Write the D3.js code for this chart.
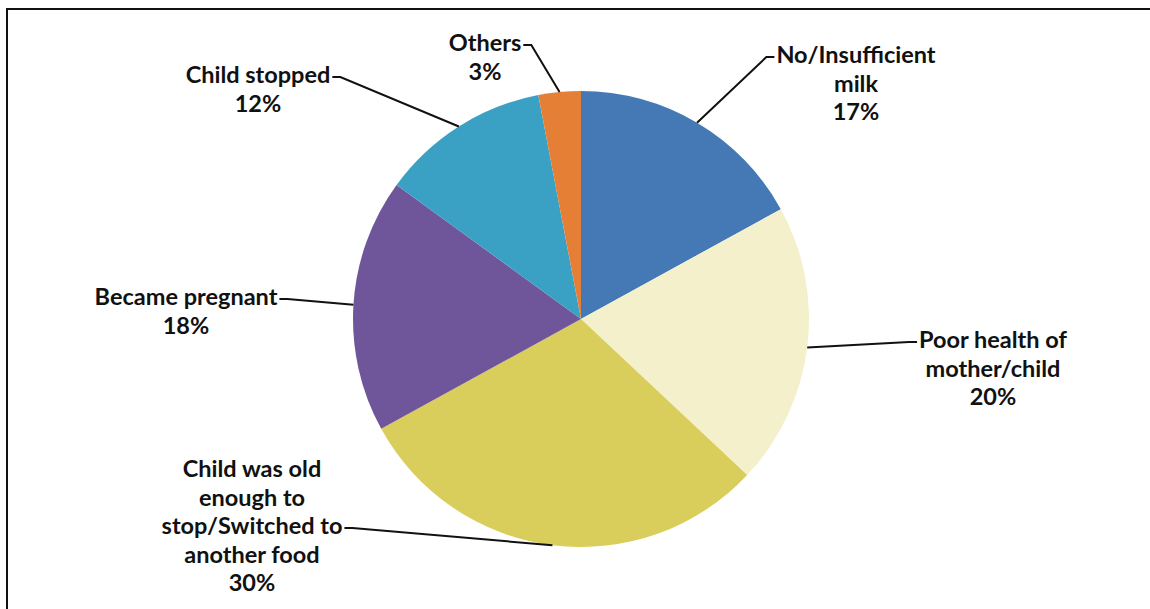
<!DOCTYPE html>
<html>
<head>
<meta charset="utf-8">
<script src="https://cdn.jsdelivr.net/npm/d3@7"></script>
<style>
  html, body { margin: 0; padding: 0; background: #fff; }
  svg { display: block; }
  .lbl { font-family: Lato, "Open Sans", sans-serif; font-weight: 700; font-size: 23.5px; fill: #111; }
</style>
</head>
<body>
<svg id="chart" width="1150" height="609"></svg>
<script>
// Reasons for stopping breastfeeding (share of respondents, %)
const categories = [
  "No/Insufficient milk",
  "Poor health of mother/child",
  "Child was old enough to stop/Switched to another food",
  "Became pregnant",
  "Child stopped",
  "Others"
];
const values = [17, 20, 30, 18, 12, 3];
// Label text, split into the lines as they are set around the pie
const labelLines = [
  ["No/Insufficient", "milk"],
  ["Poor health of", "mother/child"],
  ["Child was old", "enough to", "stop/Switched to", "another food"],
  ["Became pregnant"],
  ["Child stopped"],
  ["Others"]
];
const colors = ["#4479b5", "#f3f0cb", "#d9cd5c", "#6f559a", "#3ba1c4", "#e57f35"];

// Label layout: text centre x, first baseline y, and which line the leader attaches to
const labelLayout = [
  { x: 856, y: 63,  hook: 0, side: "left" },
  { x: 993, y: 348, hook: 0, side: "left" },
  { x: 252, y: 477, hook: 2, side: "right" },
  { x: 186, y: 305, hook: 0, side: "right" },
  { x: 258, y: 83,  hook: 0, side: "right" },
  { x: 485, y: 51,  hook: 0, side: "right" }
];
const lineHeight = 28.5;

const svg = d3.select("#chart");
const cx = 581, cy = 319, r = 228;

// frame
svg.append("path")
  .attr("d", "M7,609 V9 H1150")
  .attr("fill", "none").attr("stroke", "#111").attr("stroke-width", 2);

const data = categories.map((c, i) => ({ name: c, value: values[i], i }));
const pie = d3.pie().value(d => d.value).sort(null);
const arcs = pie(data);
const arc = d3.arc().innerRadius(0).outerRadius(r);
const rim = d3.arc().innerRadius(r).outerRadius(r);

const g = svg.append("g").attr("transform", `translate(${cx},${cy})`);
g.selectAll("path.slice")
  .data(arcs)
  .join("path")
  .attr("class", "slice")
  .attr("d", arc)
  .attr("fill", d => colors[d.data.i]);

// labels
const lg = svg.append("g");
arcs.forEach(a => {
  const i = a.data.i;
  const L = labelLayout[i];
  const lines = labelLines[i].concat([Math.round(a.data.value) + "%"]);
  const t = lg.append("text").attr("class", "lbl").attr("text-anchor", "middle");
  lines.forEach((s, k) => {
    t.append("tspan").attr("x", L.x).attr("y", L.y + k * lineHeight).text(s);
  });
  // leader line from slice rim midpoint to the hook line's edge
  const hookNode = t.selectAll("tspan").nodes()[L.hook];
  const w = hookNode.getComputedTextLength();
  const hy = L.y + L.hook * lineHeight - 6;
  const ex = L.side === "left" ? L.x - w / 2 - 2 : L.x + w / 2 + 2;
  const elbowX = L.side === "left" ? ex - 8 : ex + 8;
  const [px, py] = rim.centroid(a);
  lg.append("path")
    .attr("d", `M${cx + px},${cy + py} L${elbowX},${hy} L${ex},${hy}`)
    .attr("fill", "none").attr("stroke", "#111").attr("stroke-width", 2);
});
</script>
</body>
</html>
